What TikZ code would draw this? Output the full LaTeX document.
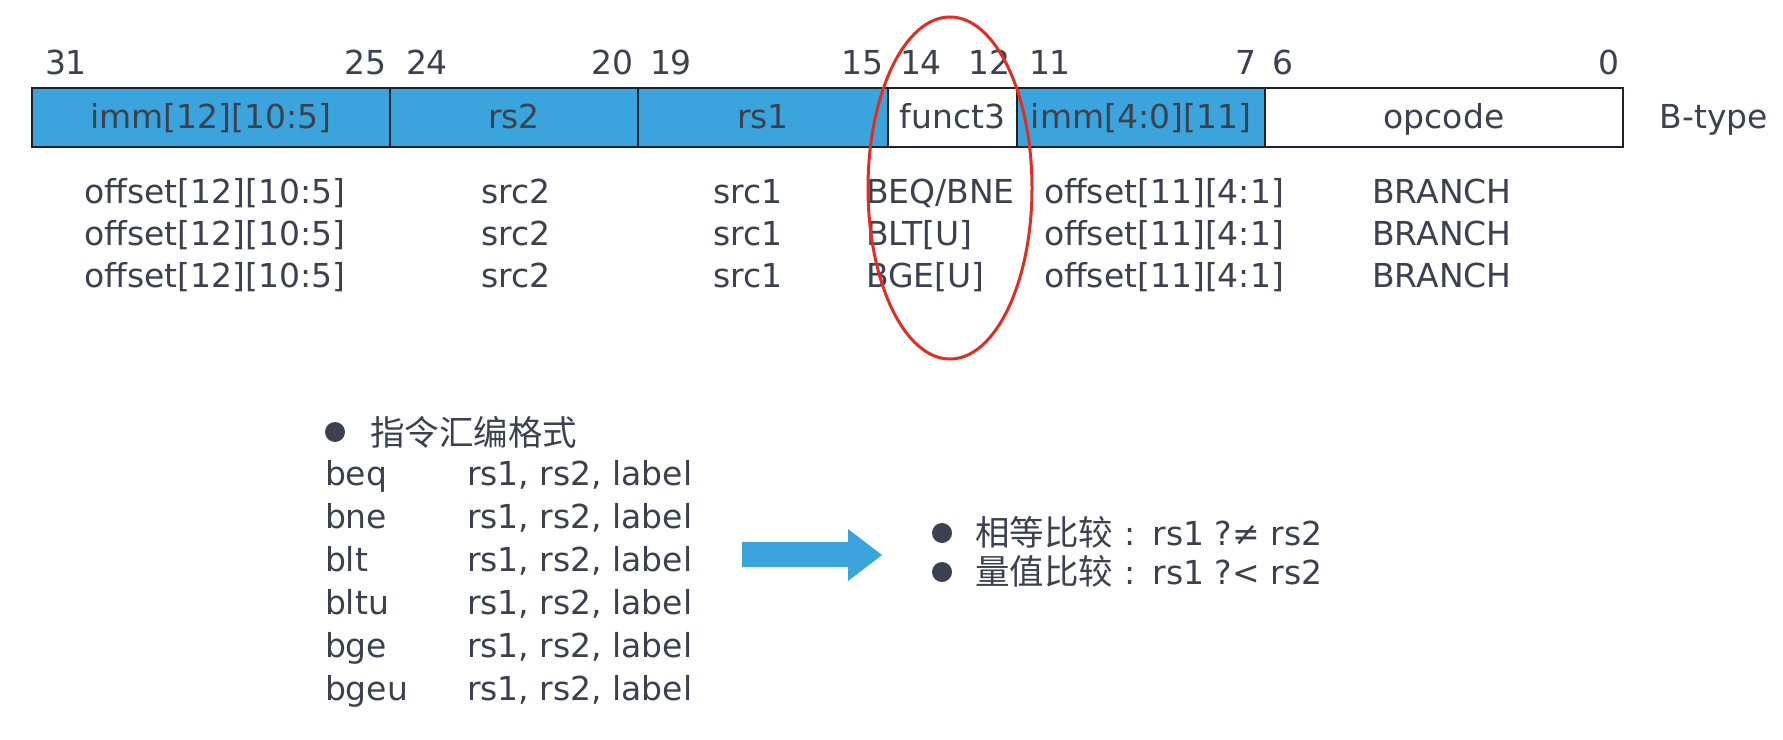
\documentclass[tikz,border=0pt]{standalone}
\usepackage{fontspec}
\setmainfont{DejaVu Sans}
\newfontfamily\cjk{Noto Sans CJK SC}
\usetikzlibrary{shapes.geometric}
\definecolor{txt}{HTML}{3C4150}
\definecolor{cellblue}{HTML}{3BA4DC}
\definecolor{edge}{HTML}{1E2230}
\definecolor{ringred}{HTML}{E02F22}
\tikzset{
  lbl/.style={inner sep=0pt, outer sep=0pt, text=txt, font=\fontsize{16.5pt}{19pt}\selectfont},
  cjklbl/.style={inner sep=0pt, outer sep=0pt, text=txt, font=\fontsize{17.25pt}{20pt}\selectfont\cjk},
  cell/.style={draw=edge, line width=1pt, inner sep=0pt, outer sep=0pt, minimum height=29.5pt,
    text height=12.5pt, text depth=2pt, text=txt, font=\fontsize{16.5pt}{19pt}\selectfont},
  bluecell/.style={cell, fill=cellblue},
  whitecell/.style={cell, fill=white},
  dot/.style={circle, fill=txt, inner sep=0pt, minimum size=10pt},
  ring/.style={ellipse, draw=ringred, line width=1.5pt, inner sep=0pt, minimum width=82pt, minimum height=171pt}
}
\newcommand{\cjkpart}[1]{{\cjk\fontsize{17.25pt}{20pt}\selectfont #1}}
\begin{document}
\begin{tikzpicture}[x=0.5pt,y=-0.5pt]
\useasboundingbox (0,0) rectangle (1783,739);
\fill[white] (0,0) rectangle (1783,739);

% register fields
\node[bluecell, minimum width=179pt] (f1) at (211,117.5) {imm[12][10:5]};
\node[bluecell, minimum width=124pt] (f2) at (514,117.5) {rs2};
\node[bluecell, minimum width=125pt] (f3) at (763,117.5) {rs1};
\node[whitecell, minimum width=64.5pt] (f4) at (952.5,117.5) {funct3};
\node[bluecell, minimum width=124pt] (f5) at (1141,117.5) {imm[4:0][11]};
\node[whitecell, minimum width=179pt] (f6) at (1444,117.5) {opcode};
\node[lbl, anchor=base] (btype) at (1714,128) {B-type};

% bit numbers
\node[lbl, anchor=base west] (b31) at (45,74) {31};
\node[lbl, anchor=base east] (b25) at (386,74) {25};
\node[lbl, anchor=base west] (b24) at (406,74) {24};
\node[lbl, anchor=base east] (b20) at (633,74) {20};
\node[lbl, anchor=base west] (b19) at (650,74) {19};
\node[lbl, anchor=base east] (b15) at (883,74) {15};
\node[lbl, anchor=base west] (b14) at (900,74) {14};
\node[lbl, anchor=base east] (b12) at (1010,74) {12};
\node[lbl, anchor=base west] (b11) at (1029,74) {11};
\node[lbl, anchor=base east] (b7) at (1256,74) {7};
\node[lbl, anchor=base west] (b6) at (1272,74) {6};
\node[lbl, anchor=base east] (b0) at (1619,74) {0};

% instruction rows
\node[lbl, anchor=base] (o1a) at (215,203) {offset[12][10:5]};
\node[lbl, anchor=base] (o1b) at (516,203) {src2};
\node[lbl, anchor=base] (o1c) at (748,203) {src1};
\node[lbl, anchor=base west] (o1d) at (866,203) {BEQ/BNE};
\node[lbl, anchor=base west] (o1e) at (1044,203) {offset[11][4:1]};
\node[lbl, anchor=base] (o1f) at (1442,203) {BRANCH};

\node[lbl, anchor=base] (o2a) at (215,245) {offset[12][10:5]};
\node[lbl, anchor=base] (o2b) at (516,245) {src2};
\node[lbl, anchor=base] (o2c) at (748,245) {src1};
\node[lbl, anchor=base west] (o2d) at (866,245) {BLT[U]};
\node[lbl, anchor=base west] (o2e) at (1044,245) {offset[11][4:1]};
\node[lbl, anchor=base] (o2f) at (1442,245) {BRANCH};

\node[lbl, anchor=base] (o3a) at (215,287) {offset[12][10:5]};
\node[lbl, anchor=base] (o3b) at (516,287) {src2};
\node[lbl, anchor=base] (o3c) at (748,287) {src1};
\node[lbl, anchor=base west] (o3d) at (866,287) {BGE[U]};
\node[lbl, anchor=base west] (o3e) at (1044,287) {offset[11][4:1]};
\node[lbl, anchor=base] (o3f) at (1442,287) {BRANCH};

% assembly format list
\node[dot] (hdot) at (335,432) {};
\node[cjklbl, anchor=west] (head) at (370,432) {指令汇编格式};
\node[lbl, anchor=base west] (m1) at (325,485) {beq};
\node[lbl, anchor=base west] (m2) at (325,528) {bne};
\node[lbl, anchor=base west] (m3) at (325,571) {blt};
\node[lbl, anchor=base west] (m4) at (325,614) {bltu};
\node[lbl, anchor=base west] (m5) at (325,657) {bge};
\node[lbl, anchor=base west] (m6) at (325,700) {bgeu};
\node[lbl, anchor=base west] (a1) at (467,485) {rs1, rs2, label};
\node[lbl, anchor=base west] (a2) at (467,528) {rs1, rs2, label};
\node[lbl, anchor=base west] (a3) at (467,571) {rs1, rs2, label};
\node[lbl, anchor=base west] (a4) at (467,614) {rs1, rs2, label};
\node[lbl, anchor=base west] (a5) at (467,657) {rs1, rs2, label};
\node[lbl, anchor=base west] (a6) at (467,700) {rs1, rs2, label};

% block arrow
\fill[cellblue] (742,542) -- (848,542) -- (848,529) -- (882,555) -- (848,581) -- (848,567) -- (742,567) -- cycle;

% comparison bullets
\node[dot] (rdot1) at (942,533) {};
\node[dot] (rdot2) at (942,572) {};
\node[lbl, anchor=base west] (r1) at (975,545) {\cjkpart{相等比较}\hspace{5.75pt}:\hspace{8.5pt}rs1 ?≠ rs2};
\node[lbl, anchor=base west] (r2) at (975,584) {\cjkpart{量值比较}\hspace{5.75pt}:\hspace{8.5pt}rs1 ?< rs2};

% red ellipse around funct3
\node[ring] (circ) at (950,188) {};
\end{tikzpicture}
\end{document}
